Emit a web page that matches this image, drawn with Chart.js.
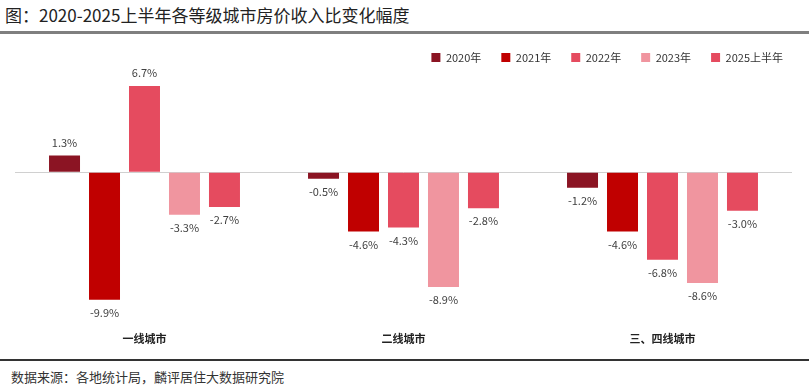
<!DOCTYPE html>
<html>
<head>
<meta charset="utf-8">
<script src="https://cdn.jsdelivr.net/npm/chart.js@4.4.0/dist/chart.umd.min.js"></script>
<style>
  body { margin: 0; background: #fff; font-family: "Noto Sans CJK SC", sans-serif; }
  #title { position: absolute; left: 5px; top: 2px; font-size: 17px; color: #222; }
  #topline { position: absolute; left: 0; top: 31px; width: 809px; height: 3px; background: #7f7f7f; }
  #wrap { position: absolute; left: 0; top: 32px; width: 809px; height: 327px; }
  #botline { position: absolute; left: 0; top: 359px; width: 809px; height: 2px; background: #333; }
  #source { position: absolute; left: 11px; top: 367px; font-size: 13px; color: #333; }
</style>
</head>
<body>
<div id="title">图：2020-2025上半年各等级城市房价收入比变化幅度</div>
<div id="topline"></div>
<div id="wrap"><canvas id="myChart"></canvas></div>
<div id="botline"></div>
<div id="source">数据来源：各地统计局，麟评居住大数据研究院</div>
<script>
// categories and series
const cities = ['一线城市', '二线城市', '三、四线城市'];
const seriesNames = ['2020年', '2021年', '2022年', '2023年', '2025上半年'];
const v2020 = [1.3, -0.5, -1.2];
const v2021 = [-9.9, -4.6, -4.6];
const v2022 = [6.7, -4.3, -6.8];
const v2023 = [-3.3, -8.9, -8.6];
const v2025 = [-2.7, -2.8, -3.0];
const colors = ['#8B1423', '#C00000', '#E54B5F', '#F0959F', '#E54B5F'];

const allValues = [v2020, v2021, v2022, v2023, v2025];

// value labels above / below each bar
const barLabels = {
    id: 'barLabels',
    afterLayout(chart) {
        // push the legend a little further right, like the original
        chart.legend.left += 11;
        chart.legend.right += 11;
    },
    afterDatasetsDraw(chart) {
        const c = chart.ctx;
        c.save();
        c.font = '11px "Noto Sans CJK SC", sans-serif';
        c.fillStyle = '#404040';
        c.textAlign = 'center';
        c.textBaseline = 'middle';
        chart.data.datasets.forEach((ds, i) => {
            chart.getDatasetMeta(i).data.forEach((bar, j) => {
                const v = ds.data[j];
                const y = v >= 0 ? bar.y - 13 : bar.y + 13;
                c.fillText(v.toFixed(1) + '%', bar.x, y);
            });
        });
        c.restore();
    }
};

const ctx = document.getElementById('myChart').getContext('2d');
const myChart = new Chart(ctx, {
    type: 'bar',
    data: {
        labels: cities,
        datasets: seriesNames.map((name, i) => ({
            label: name,
            data: allValues[i],
            backgroundColor: colors[i],
            barPercentage: 0.775,
            categoryPercentage: 0.772
        }))
    },
    options: {
        responsive: true,
        maintainAspectRatio: false,
        animation: false,
        layout: { padding: { left: 15, right: 17, top: 0, bottom: 0 } },
        plugins: {
            legend: {
                position: 'top',
                align: 'end',
                labels: {
                    boxWidth: 9,
                    boxHeight: 9,
                    padding: 20,
                    color: '#333',
                    font: { size: 11, family: '"Noto Sans CJK SC", sans-serif' }
                }
            },
            tooltip: { enabled: false }
        },
        scales: {
            x: {
                grid: { display: false, drawTicks: false },
                border: { display: false },
                ticks: {
                    padding: 14,
                    color: '#222',
                    font: { size: 11, weight: 'bold', family: '"Noto Sans CJK SC", sans-serif' }
                }
            },
            y: {
                min: -11.3,
                max: 7.7,
                border: { display: false },
                ticks: { display: false, stepSize: 0.1 },
                grid: {
                    drawTicks: false,
                    color: c => Math.abs(c.tick.value) < 1e-9 ? '#d0d0d0' : 'rgba(0,0,0,0)',
                    lineWidth: 1
                }
            }
        }
    },
    plugins: [barLabels]
});
</script>
</body>
</html>
